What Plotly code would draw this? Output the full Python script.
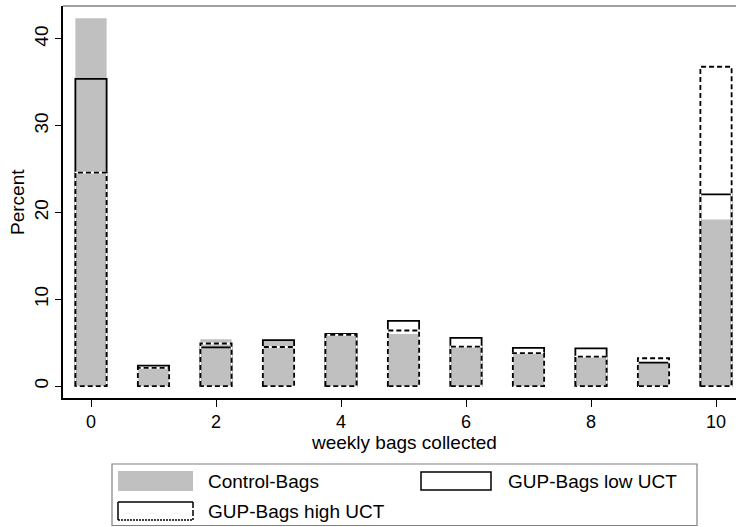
import plotly.graph_objects as go

# ---- data ----
bags = [0, 1, 2, 3, 4, 5, 6, 7, 8, 9, 10]
control_bags = [42.4, 2.2, 5.4, 5.3, 5.9, 6.0, 4.5, 3.8, 3.4, 2.7, 19.2]
gup_low_uct = [35.4, 2.35, 4.45, 5.3, 6.0, 7.5, 5.55, 4.4, 4.35, 2.7, 22.1]
gup_high_uct = [24.6, 2.1, 4.9, 4.5, 5.9, 6.4, 4.55, 3.8, 3.4, 3.2, 36.8]
x_ticks = [0, 2, 4, 6, 8, 10]
y_ticks = [0, 10, 20, 30, 40]
legend_labels = ["Control-Bags", "GUP-Bags low UCT", "GUP-Bags high UCT"]

# ---- style ----
W, H = 736, 527
L, R, T, B = 63, 0, 6, 129
BAR_W = 0.5
GREY = "#c0c0c0"
FONT = "Liberation Sans, Arial, sans-serif"
FS = 19
TFS = 18

fig = go.Figure()

fig.add_trace(go.Bar(x=bags, y=control_bags, width=BAR_W,
                     marker=dict(color=GREY, line=dict(width=0)),
                     name=legend_labels[0], showlegend=False))
fig.add_trace(go.Bar(x=bags, y=gup_low_uct, width=BAR_W,
                     marker=dict(color="rgba(0,0,0,0)", line=dict(color="black", width=1.8)),
                     name=legend_labels[1], showlegend=False))

# dashed outlines for high UCT built from the data values
hx, hy = [], []
half = BAR_W / 2
for xv, yv in zip(bags, gup_high_uct):
    hx += [xv - half, xv - half, xv + half, xv + half, xv - half, None]
    hy += [0, yv, yv, 0, 0, None]
fig.add_trace(go.Scatter(x=hx, y=hy, mode="lines",
                         line=dict(color="white", width=1.8),
                         hoverinfo="skip", showlegend=False))
fig.add_trace(go.Scatter(x=hx, y=hy, mode="lines",
                         line=dict(color="black", width=1.8, dash="5px,3px"),
                         name=legend_labels[2], showlegend=False))

fig.update_layout(
    width=W, height=H,
    margin=dict(l=L, r=R, t=T, b=B),
    paper_bgcolor="white", plot_bgcolor="white",
    barmode="overlay",
    font=dict(family=FONT, size=FS, color="black"),
    showlegend=False,
)
fig.update_xaxes(range=[-0.448, 10.32], tickvals=x_ticks, ticktext=[str(v) for v in x_ticks],
                 ticks="outside", ticklen=7, tickcolor="black", showline=True,
                 linecolor="black", linewidth=1.5, showgrid=False, zeroline=False,
                 tickfont=dict(size=TFS))
fig.update_yaxes(range=[-1.38, 43.8], tickvals=y_ticks, ticktext=[str(v) for v in y_ticks],
                 ticks="outside", ticklen=6, tickcolor="black", showline=True,
                 linecolor="black", linewidth=1.5, showgrid=False, zeroline=False,
                 tickangle=-90, tickfont=dict(size=FS))

pw = W - L - R
ph = H - T - B
def px(xp):
    return (xp - L) / pw
def py(yp):
    return 1 - (yp - T) / ph

shapes = []
# top grey border line
shapes.append(dict(type="line", xref="paper", yref="paper", x0=0, x1=1, y0=1, y1=1,
                   line=dict(color="#808080", width=1.5)))
# legend box
shapes.append(dict(type="rect", xref="paper", yref="paper",
                   x0=px(112), x1=px(697), y0=py(525.5), y1=py(464),
                   line=dict(color="#808080", width=1.2), fillcolor="white", layer="below"))
# swatches
shapes.append(dict(type="rect", xref="paper", yref="paper",
                   x0=px(118), x1=px(193), y0=py(491), y1=py(471),
                   line=dict(width=0), fillcolor=GREY))
shapes.append(dict(type="rect", xref="paper", yref="paper",
                   x0=px(421), x1=px(491), y0=py(490), y1=py(472),
                   line=dict(color="black", width=1.5), fillcolor="white"))
# high UCT swatch: solid top/left, dashed bottom/right
shapes.append(dict(type="line", xref="paper", yref="paper", x0=px(118), x1=px(193), y0=py(502), y1=py(502),
                   line=dict(color="black", width=1.5)))
shapes.append(dict(type="line", xref="paper", yref="paper", x0=px(118), x1=px(118), y0=py(502), y1=py(520),
                   line=dict(color="black", width=1.5)))
shapes.append(dict(type="line", xref="paper", yref="paper", x0=px(118), x1=px(193), y0=py(520), y1=py(520),
                   line=dict(color="black", width=1.5, dash="2px,1px")))
shapes.append(dict(type="line", xref="paper", yref="paper", x0=px(193), x1=px(193), y0=py(502), y1=py(520),
                   line=dict(color="black", width=1.5, dash="6px,2px")))
fig.update_layout(shapes=shapes)

annotations = [
    dict(text="weekly bags collected", xref="paper", yref="paper", x=px(404), y=py(442),
         xanchor="center", yanchor="middle", showarrow=False, font=dict(size=FS)),
    dict(text="Percent", xref="paper", yref="paper", x=px(17), y=py(202), textangle=-90,
         xanchor="center", yanchor="middle", showarrow=False, font=dict(size=FS)),
    dict(text=legend_labels[0], xref="paper", yref="paper", x=px(206), y=py(481),
         xanchor="left", yanchor="middle", showarrow=False, font=dict(size=FS)),
    dict(text=legend_labels[1], xref="paper", yref="paper", x=px(506), y=py(481),
         xanchor="left", yanchor="middle", showarrow=False, font=dict(size=FS)),
    dict(text=legend_labels[2], xref="paper", yref="paper", x=px(206), y=py(511),
         xanchor="left", yanchor="middle", showarrow=False, font=dict(size=FS)),
]
fig.update_layout(annotations=annotations)

fig.write_html("out.html", config={"displayModeBar": False},
               post_script="document.body.style.margin='0';document.body.style.padding='0';")
